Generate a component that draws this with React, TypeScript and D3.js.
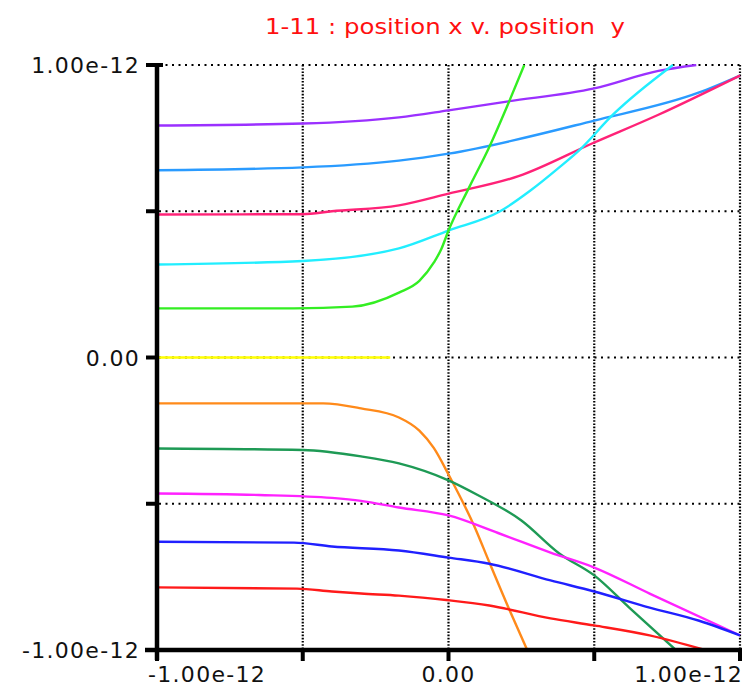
import React from "react";
import * as d3 from "d3";

// values are in units of 1e-12
const UNIT = 1e-12;

const title = "1-11 : position x v. position  y";

const xTicks = [-1, -0.5, 0, 0.5, 1];
const yTicks = [-1, -0.5, 0, 0.5, 1];
const xTickLabels = ["-1.00e-12", "", "0.00", "", "1.00e-12"];
const yTickLabels = ["-1.00e-12", "", "0.00", "", "1.00e-12"];

const purpleX = [-1, -0.5, -0.17, 0, 0.2, 0.5, 0.72, 0.85];
const purpleY = [0.793, 0.8, 0.821, 0.845, 0.875, 0.92, 0.98, 1.0];

const skyX = [-1, -0.5, -0.17, 0, 0.5, 0.86, 1.0];
const skyY = [0.64, 0.65, 0.673, 0.697, 0.81, 0.906, 0.964];

const pinkX = [-1, -0.5, -0.4, -0.17, 0, 0.24, 0.5, 0.72, 1.0];
const pinkY = [0.489, 0.49, 0.5, 0.52, 0.56, 0.62, 0.735, 0.83, 0.964];

const cyanX = [-1, -0.5, -0.17, 0, 0.177, 0.28, 0.38, 0.45, 0.564, 0.77];
const cyanY = [0.318, 0.33, 0.373, 0.434, 0.5, 0.57, 0.65, 0.71, 0.83, 1.0];

const limeX = [-1, -0.53, -0.33, -0.17, -0.1, -0.05, -0.025, 0, 0.07, 0.14, 0.21, 0.26];
const limeY = [0.168, 0.168, 0.174, 0.222, 0.262, 0.325, 0.37, 0.434, 0.58, 0.72, 0.88, 1.0];

const yellowX = [-1, -0.2];
const yellowY = [0, 0];

const orangeX = [-1, -0.43, -0.3, -0.17, -0.1, -0.05, 0, 0.09, 0.14, 0.21, 0.27];
const orangeY = [-0.157, -0.157, -0.174, -0.205, -0.25, -0.31, -0.4, -0.58, -0.7, -0.865, -1.0];

const seaX = [-1, -0.5, -0.3, -0.17, 0, 0.1, 0.25, 0.38, 0.5, 0.62, 0.78];
const seaY = [-0.311, -0.316, -0.338, -0.362, -0.42, -0.47, -0.557, -0.67, -0.745, -0.855, -1.0];

const magentaX = [-1, -0.65, -0.4, -0.3, -0.17, 0, 0.17, 0.35, 0.5, 0.69, 1.0];
const magentaY = [-0.465, -0.47, -0.48, -0.49, -0.513, -0.54, -0.6, -0.667, -0.718, -0.807, -0.95];

const blueX = [-1, -0.53, -0.4, -0.17, 0, 0.14, 0.35, 0.5, 0.69, 0.86, 1.0];
const blueY = [-0.63, -0.633, -0.646, -0.66, -0.684, -0.705, -0.762, -0.8, -0.855, -0.9, -0.95];

const redX = [-1, -0.52, -0.4, -0.3, -0.17, 0, 0.14, 0.35, 0.5, 0.69, 0.88];
const redY = [-0.786, -0.79, -0.8, -0.807, -0.814, -0.83, -0.848, -0.892, -0.916, -0.95, -1.0];

const series = [
  { color: "#9b30ff", xs: purpleX, ys: purpleY },
  { color: "#2a9bff", xs: skyX, ys: skyY },
  { color: "#ff2277", xs: pinkX, ys: pinkY },
  { color: "#22eeff", xs: cyanX, ys: cyanY },
  { color: "#33ee22", xs: limeX, ys: limeY },
  { color: "#ffff00", xs: yellowX, ys: yellowY },
  { color: "#ff8a1a", xs: orangeX, ys: orangeY },
  { color: "#1e9a55", xs: seaX, ys: seaY },
  { color: "#ff22ff", xs: magentaX, ys: magentaY },
  { color: "#2020ff", xs: blueX, ys: blueY },
  { color: "#ff1a1a", xs: redX, ys: redY },
];

const App = () => {
  const W = 748,
    H = 687;
  const left = 157,
    right = 740,
    top = 65,
    bottom = 650;

  const x = d3.scaleLinear().domain([-UNIT, UNIT]).range([left, right]);
  const y = d3.scaleLinear().domain([-UNIT, UNIT]).range([bottom, top]);

  const line = d3
    .line<[number, number]>()
    .curve(d3.curveMonotoneX)
    .x((d) => x(d[0] * UNIT))
    .y((d) => y(d[1] * UNIT));

  const font = "'DejaVu Sans', sans-serif";

  return (
    <svg
      width={W}
      height={H}
      style={{ position: "absolute", left: 0, top: 0, background: "#fff" }}
    >
      <defs>
        <clipPath id="plot">
          <rect x={left} y={top - 1} width={right - left + 2} height={bottom - top + 1} />
        </clipPath>
      </defs>

      <text
        x={445}
        y={34}
        textAnchor="middle"
        fill="#ff1010"
        fontFamily={font}
        fontSize={21}
        textLength={360}
        lengthAdjust="spacingAndGlyphs"
        style={{ whiteSpace: "pre" }}
      >
        {title}
      </text>

      {/* grid */}
      {yTicks
        .filter((t) => t !== -1)
        .map((t) => (
          <line
            key={"gy" + t}
            x1={left + 2}
            x2={right}
            y1={y(t * UNIT)}
            y2={y(t * UNIT)}
            stroke="#000"
            strokeWidth={2.2}
            strokeDasharray="2,4.5"
          />
        ))}
      {xTicks
        .filter((t) => t !== -1)
        .map((t) => (
          <line
            key={"gx" + t}
            x1={x(t * UNIT)}
            x2={x(t * UNIT)}
            y1={top}
            y2={bottom}
            stroke="#000"
            strokeWidth={2.2}
            strokeDasharray="1.6,1.6"
          />
        ))}

      {/* series */}
      <g clipPath="url(#plot)">
        {series.map((s, i) => (
          <path
            key={i}
            d={line(s.xs.map((v, j) => [v, s.ys[j]] as [number, number])) || ""}
            fill="none"
            stroke={s.color}
            strokeWidth={2.4}
          />
        ))}
      </g>

      {/* axes */}
      <line x1={left} x2={left} y1={top - 2} y2={bottom + 10} stroke="#000" strokeWidth={4.5} />
      <line x1={left - 12} x2={right + 2} y1={bottom} y2={bottom} stroke="#000" strokeWidth={4.5} />
      {yTicks.map((t, i) => (
        <g key={"ty" + t}>
          <line
            x1={left - 11}
            x2={left}
            y1={y(t * UNIT)}
            y2={y(t * UNIT)}
            stroke="#000"
            strokeWidth={4}
          />
          {yTickLabels[i] && (
            <text
              x={left - 17}
              y={y(t * UNIT)}
              dy="0.37em"
              textAnchor="end"
              fontFamily={font}
              fontSize={22}
              letterSpacing={1.3}
              fill="#111"
            >
              {yTickLabels[i]}
            </text>
          )}
        </g>
      ))}
      <line x1={left - 6} x2={left + 6} y1={top} y2={top} stroke="#000" strokeWidth={4} />
      {xTicks.map((t, i) => (
        <g key={"tx" + t}>
          <line
            x1={x(t * UNIT)}
            x2={x(t * UNIT)}
            y1={bottom}
            y2={bottom + 11}
            stroke="#000"
            strokeWidth={4}
          />
          {xTickLabels[i] && (
            <text
              x={i === 0 ? left - 9 : i === xTicks.length - 1 ? right + 3 : x(t * UNIT)}
              y={bottom + 32}
              textAnchor={i === 0 ? "start" : i === xTicks.length - 1 ? "end" : "middle"}
              fontFamily={font}
              fontSize={22}
              letterSpacing={1.3}
              fill="#111"
            >
              {xTickLabels[i]}
            </text>
          )}
        </g>
      ))}
    </svg>
  );
};

export default App;
